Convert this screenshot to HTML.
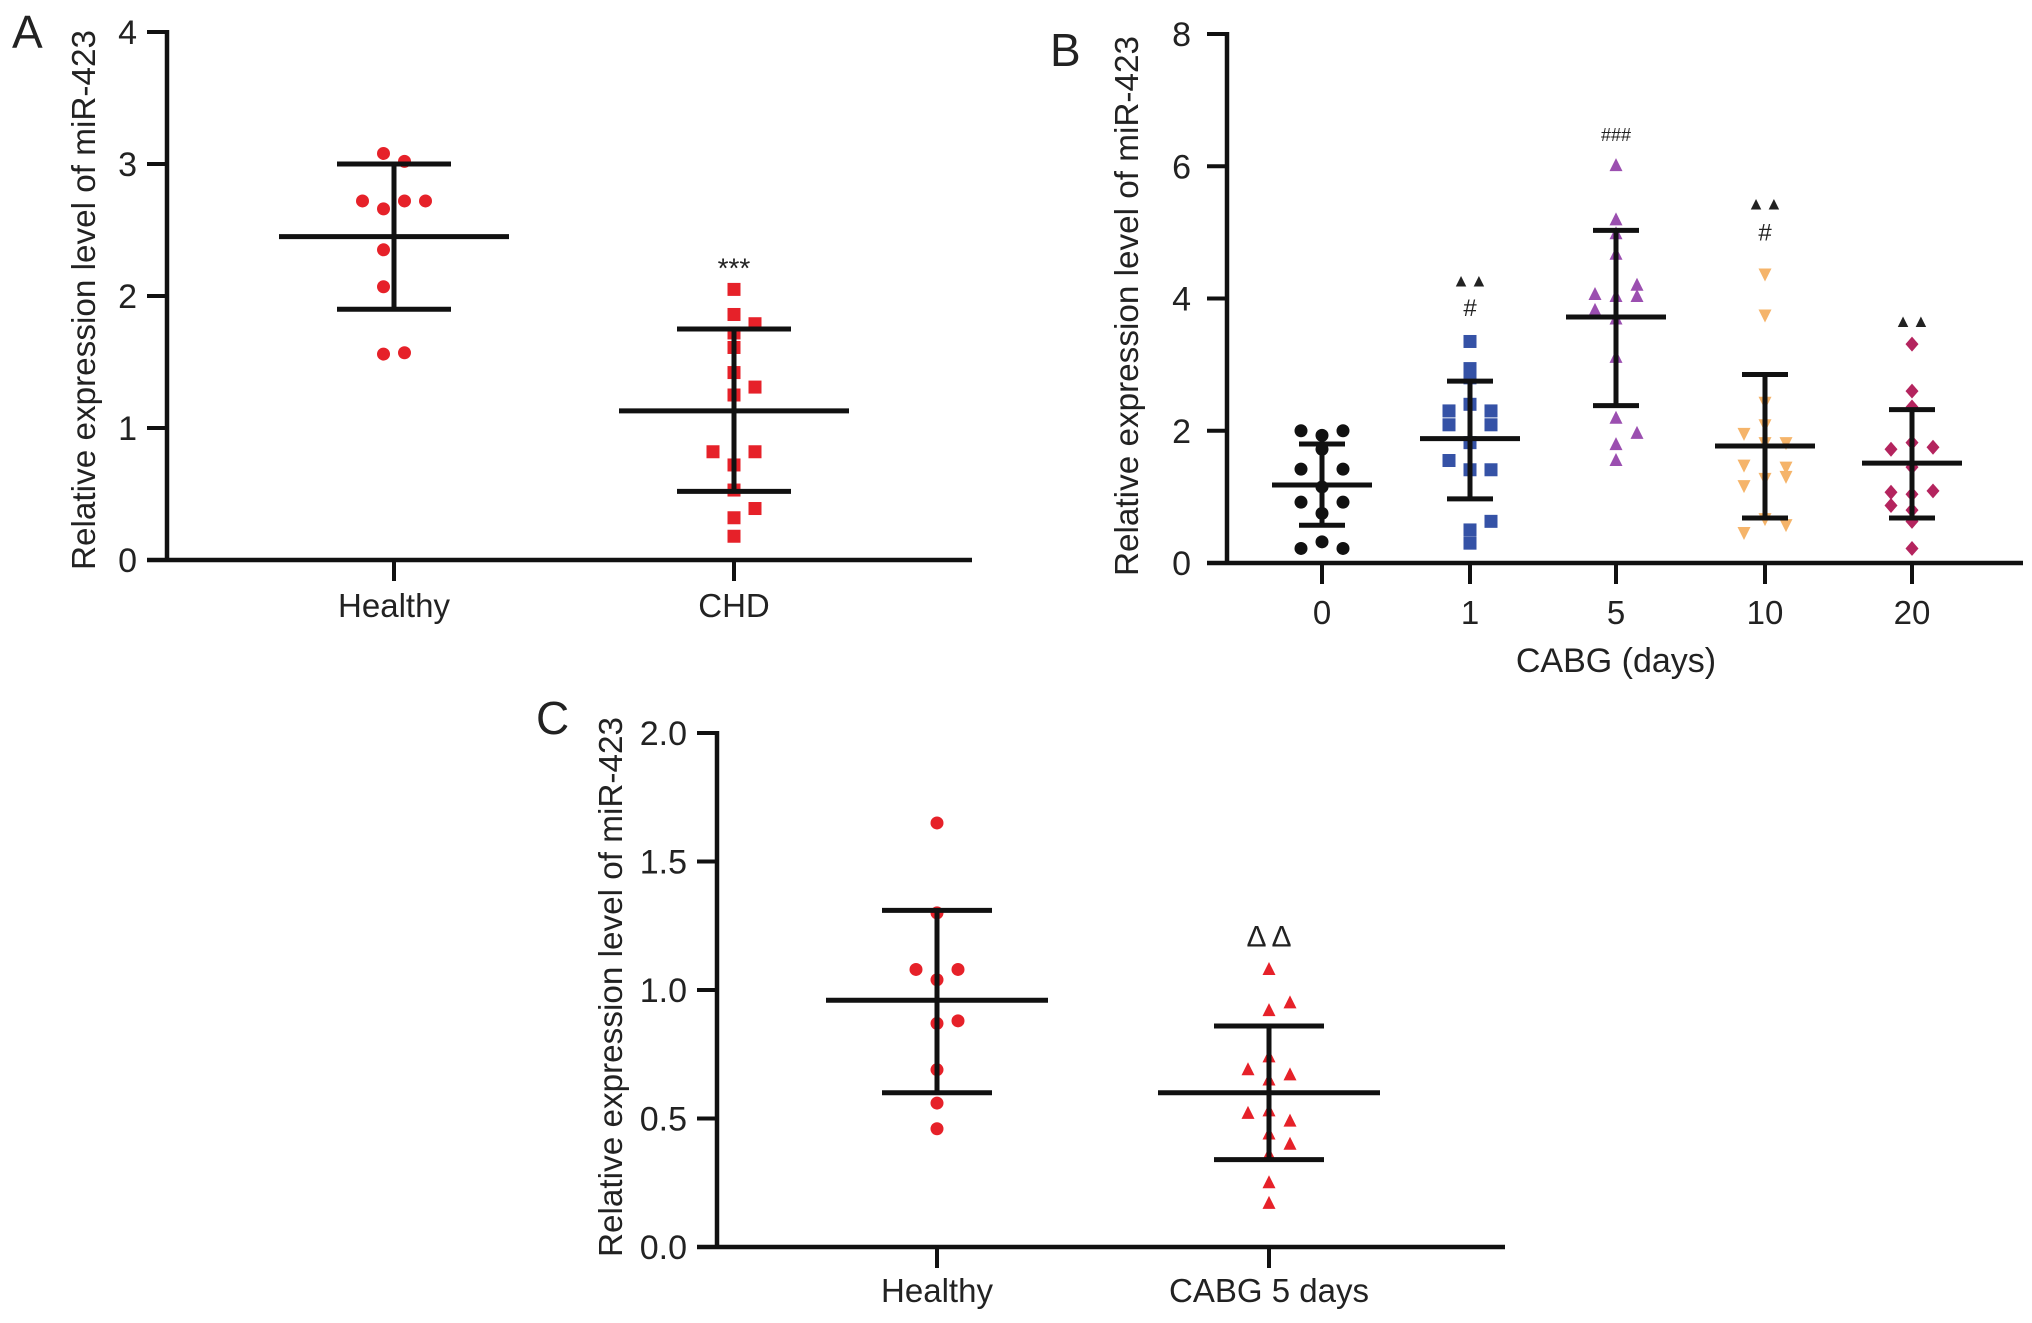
<!DOCTYPE html>
<html><head><meta charset="utf-8">
<style>
html,body{margin:0;padding:0;background:#fff;}
svg{display:block;font-family:"Liberation Sans",sans-serif;}
text{fill:#222;}
</style></head>
<body>
<svg id="fig" width="2032" height="1323" viewBox="0 0 2032 1323" xmlns="http://www.w3.org/2000/svg"></svg>
<script>
// ---------- Panel A data ----------
const aCategories = ["Healthy", "CHD"];
const aTicks = [0, 1, 2, 3, 4];
const aHealthyValues = [3.08, 3.02, 2.72, 2.72, 2.72, 2.66, 2.35, 2.07, 1.56, 1.57];
const aHealthySlots  = [-0.5, 0.5, -1.5, 0.5, 1.5, -0.5, -0.5, -0.5, -0.5, 0.5];
const aChdValues = [2.05, 1.86, 1.79, 1.72, 1.61, 1.42, 1.31, 1.25, 0.82, 0.82, 0.72, 0.53, 0.39, 0.32, 0.18];
const aChdSlots  = [0, 0, 1, 0, 0, 0, 1, 0, -1, 1, 0, 0, 1, 0, 0];
const aMeans = [2.45, 1.13];
const aSdHigh = [3.0, 1.75];
const aSdLow = [1.9, 0.52];

// ---------- Panel B data ----------
const bCategories = ["0", "1", "5", "10", "20"];
const bTicks = [0, 2, 4, 6, 8];
const b0Values = [2.0, 2.0, 1.93, 1.72, 1.42, 1.42, 1.15, 0.92, 0.92, 0.75, 0.32, 0.22, 0.22];
const b0Slots  = [-1, 1, 0, 0, -1, 1, 0, -1, 1, 0, 0, -1, 1];
const b1Values = [3.35, 2.94, 2.8, 2.3, 2.3, 2.4, 2.09, 2.09, 1.82, 1.55, 1.41, 1.41, 0.63, 0.5, 0.3];
const b1Slots  = [0, 0, 0, -1, 1, 0, -1, 1, 0, -1, 1, 0, 1, 0, 0];
const b5Values = [6.01, 5.19, 4.98, 4.67, 4.06, 4.2, 4.03, 4.03, 3.82, 3.69, 3.11, 2.19, 1.96, 1.79, 1.55];
const b5Slots  = [0, 0, 0, 0, -1, 1, 0, 1, -1, 0, 0, 0, 1, 0, 0];
const b10Values = [4.37, 3.75, 2.43, 2.09, 1.96, 1.82, 1.82, 1.48, 1.45, 1.17, 1.28, 1.31, 0.67, 0.58, 0.46];
const b10Slots  = [0, 0, 0, 0, -1, 1, 0, -1, 1, -1, 0, 1, 0, 1, -1];
const b20Values = [3.31, 2.6, 2.36, 1.72, 1.82, 1.75, 1.45, 1.07, 1.09, 1.04, 0.87, 0.8, 0.63, 0.22];
const b20Slots  = [0, 0, 0, -1, 0, 1, 0, -1, 1, 0, -1, 0, 0, 0];
const bMeans = [1.18, 1.88, 3.72, 1.77, 1.51];
const bSdHigh = [1.8, 2.75, 5.03, 2.85, 2.32];
const bSdLow = [0.57, 0.97, 2.38, 0.68, 0.68];
const bSigTop = ["", "▲▲", "###", "▲▲", "▲▲"];
const bSigTopValues = [0, 4.3, 6.5, 5.47, 3.69];
const bSigHash = ["", "#", "", "#", ""];
const bSigHashValues = [0, 3.86, 0, 5.0, 0];

// ---------- Panel C data ----------
const cCategories = ["Healthy", "CABG 5 days"];
const cTicks = [0.0, 0.5, 1.0, 1.5, 2.0];
const cHealthyValues = [1.65, 1.30, 1.08, 1.08, 1.04, 0.87, 0.88, 0.69, 0.56, 0.46];
const cHealthySlots  = [0, 0, -1, 1, 0, 0, 1, 0, 0, 0];
const cCabgValues = [1.08, 0.92, 0.95, 0.74, 0.69, 0.67, 0.65, 0.52, 0.53, 0.49, 0.44, 0.40, 0.36, 0.25, 0.17];
const cCabgSlots  = [0, 0, 1, 0, -1, 1, 0, -1, 0, 1, 0, 1, 0, 0, 0];
const cMeans = [0.96, 0.60];
const cSdHigh = [1.31, 0.86];
const cSdLow = [0.60, 0.34];

const NS = "http://www.w3.org/2000/svg";
const svg = document.getElementById("fig");
function mk(tag, attrs, parent) {
  const e = document.createElementNS(NS, tag);
  for (const k in attrs) e.setAttribute(k, attrs[k]);
  (parent || svg).appendChild(e);
  return e;
}

function makeAxes(p) {
  const y = v => p.y0 - (v - p.vmin) / (p.vmax - p.vmin) * (p.y0 - p.y1);
  const x = i => p.xs[i];
  return {x, y};
}

function drawPanel(p) {
  const g = mk("g", {});
  
  
  const {x, y} = makeAxes(p);
  const ya = mk("line", {x1: p.ax, y1: p.y1 - 2, x2: p.ax, y2: p.y0 + 2, stroke: "#111", "stroke-width": 4.5}, g);
  
  
  const xa = mk("line", {x1: p.ax - 20, y1: p.y0, x2: p.xEnd, y2: p.y0, stroke: "#111", "stroke-width": 4.5}, g);
  
  
  p.ticks.forEach(t => {
    const tk = mk("line", {x1: p.ax - 20, y1: y(t), x2: p.ax, y2: y(t), stroke: "#111", "stroke-width": 4}, g);
    
    
    const tl = mk("text", {x: p.ax - p.tickGap, y: y(t) + 12, "text-anchor": "end", "font-size": 34}, g);
    
    
    tl.textContent = p.tickFmt(t);
  });
  p.cats.forEach((c, i) => {
    const tk = mk("line", {x1: x(i), y1: p.y0, x2: x(i), y2: p.y0 + 21, stroke: "#111", "stroke-width": 4}, g);
    
    
    const tl = mk("text", {x: x(i), y: p.catY, "text-anchor": "middle", "font-size": 33}, g);
    
    
    tl.textContent = c;
  });
  const yt = mk("text", {x: 0, y: 0, "text-anchor": "middle", "font-size": 33, transform: `translate(${p.titleX},${p.titleY}) rotate(-90)`, textLength: 540, lengthAdjust: "spacingAndGlyphs"}, g);
  
  
  yt.textContent = "Relative expression level of miR-423";
  const pl = mk("text", {x: p.letterX, y: p.letterY, "font-size": 46}, g);
  
  
  pl.textContent = p.letter;
  p.series.forEach((s, i) => {
    s.values.forEach((v, j) => {
      const cx = x(i) + s.slots[j] * p.slot, cy = y(v), r = p.r;
      let m;
      if (s.shape === "circle") m = mk("circle", {cx, cy, r, fill: s.color}, g);
      else if (s.shape === "square") m = mk("rect", {x: cx - r, y: cy - r, width: 2 * r, height: 2 * r, fill: s.color}, g);
      else if (s.shape === "tri") m = mk("polygon", {points: `${cx},${cy - r * 1.15} ${cx - r},${cy + r * 0.85} ${cx + r},${cy + r * 0.85}`, fill: s.color}, g);
      else if (s.shape === "tridown") m = mk("polygon", {points: `${cx},${cy + r * 1.15} ${cx - r},${cy - r * 0.85} ${cx + r},${cy - r * 0.85}`, fill: s.color}, g);
      else m = mk("polygon", {points: `${cx},${cy - r * 1.15} ${cx + r},${cy} ${cx},${cy + r * 1.15} ${cx - r},${cy}`, fill: s.color}, g);
      
      
    });
  });
  p.means.forEach((mv, i) => {
    const eg = mk("g", {stroke: "#111", "stroke-width": 5}, g);
    
    
    mk("line", {x1: x(i), y1: y(p.hi[i]), x2: x(i), y2: y(p.lo[i])}, eg);
    mk("line", {x1: x(i) - p.meanHalf, y1: y(mv), x2: x(i) + p.meanHalf, y2: y(mv)}, eg);
    mk("line", {x1: x(i) - p.sdHalf, y1: y(p.hi[i]), x2: x(i) + p.sdHalf, y2: y(p.hi[i])}, eg);
    mk("line", {x1: x(i) - p.sdHalf, y1: y(p.lo[i]), x2: x(i) + p.sdHalf, y2: y(p.lo[i])}, eg);
  });
  (p.annots || []).forEach(a => {
    if (!a.text) return;
    const t = mk("text", {x: x(a.i), y: y(a.v) + 8, "text-anchor": "middle", "font-size": a.size || 22}, g);
    
    
    t.textContent = a.text;
  });
  return {x, y};
}

const RED = "#e62129";
drawPanel({
  name: "panel-a", letter: "A", letterX: 12, letterY: 48,
  ax: 167, y0: 560, y1: 32, vmin: 0, vmax: 4, xEnd: 972,
  xs: [394, 734], cats: aCategories, catY: 617, tickGap: 30,
  ticks: aTicks, tickFmt: t => String(t),
  titleX: 95, titleY: 300,
  slot: 21, r: 6.5, meanHalf: 115, sdHalf: 57,
  series: [{values: aHealthyValues, slots: aHealthySlots, shape: "circle", color: RED},
           {values: aChdValues, slots: aChdSlots, shape: "square", color: RED}],
  means: aMeans, hi: aSdHigh, lo: aSdLow,
  annots: [{i: 1, v: 2.2, text: "***", size: 28}]
});

const bColors = ["#111", "#3552a6", "#9b4fb0", "#f5b46a", "#b4245e"];
const bShapes = ["circle", "square", "tri", "tridown", "diamond"];
const bVals = [b0Values, b1Values, b5Values, b10Values, b20Values];
const bSl = [b0Slots, b1Slots, b5Slots, b10Slots, b20Slots];
const bAnn = [];
bSigTop.forEach((t, i) => bAnn.push({i, v: bSigTopValues[i], text: t, size: 18}));
bSigHash.forEach((t, i) => bAnn.push({i, v: bSigHashValues[i], text: t, size: 24}));
drawPanel({
  name: "panel-b", letter: "B", letterX: 1050, letterY: 66,
  ax: 1227, y0: 563, y1: 34, vmin: 0, vmax: 8, xEnd: 2023,
  xs: [1322, 1470, 1616, 1765, 1912], cats: bCategories, catY: 624, tickGap: 36,
  ticks: bTicks, tickFmt: t => String(t),
  titleX: 1138, titleY: 306,
  slot: 21, r: 6.5, meanHalf: 50, sdHalf: 23,
  series: bVals.map((v, i) => ({values: v, slots: bSl[i], shape: bShapes[i], color: bColors[i]})),
  means: bMeans, hi: bSdHigh, lo: bSdLow,
  annots: bAnn
});
const bx = mk("text", {x: 1616, y: 672, "text-anchor": "middle", "font-size": 34});


bx.textContent = "CABG (days)";

drawPanel({
  name: "panel-c", letter: "C", letterX: 536, letterY: 734,
  ax: 717, y0: 1247, y1: 733, vmin: 0, vmax: 2, xEnd: 1505,
  xs: [937, 1269], cats: cCategories, catY: 1302, tickGap: 30,
  ticks: cTicks, tickFmt: t => t.toFixed(1),
  titleX: 622, titleY: 987,
  slot: 21, r: 6.5, meanHalf: 111, sdHalf: 55,
  series: [{values: cHealthyValues, slots: cHealthySlots, shape: "circle", color: RED},
           {values: cCabgValues, slots: cCabgSlots, shape: "tri", color: RED}],
  means: cMeans, hi: cSdHigh, lo: cSdLow,
  annots: [{i: 1, v: 1.2, text: "Δ Δ", size: 30}]
});
</script>
</body></html>
